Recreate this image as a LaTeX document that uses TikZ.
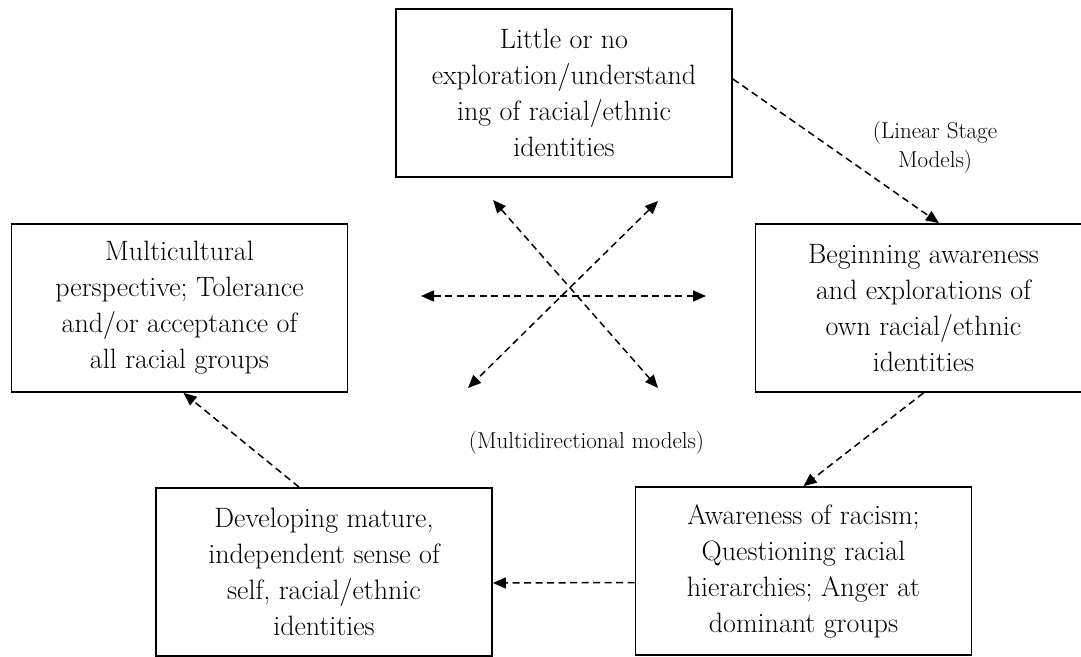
\documentclass[tikz,border=0pt]{standalone}
\usepackage{fontspec}
\usetikzlibrary{arrows.meta}
\tikzset{
  stagebox/.style={draw, line width=1.8pt, minimum width=336pt, minimum height=168pt,
    align=center, inner sep=0pt, font=\fontsize{28}{36}\selectfont},
  lbl/.style={align=center, inner sep=0pt, font=\fontsize{23}{29}\selectfont},
  dasharrow/.style={line width=1.5pt, dash pattern=on 7pt off 4.5pt,
    -{Triangle[length=13pt,width=11pt]}},
  dashboth/.style={line width=1.5pt, dash pattern=on 7pt off 4.5pt,
    {Triangle[length=13pt,width=11pt]}-{Triangle[length=13pt,width=11pt]}}
}
\begin{document}
\begin{tikzpicture}[x=1pt,y=-1pt]
\useasboundingbox (0,0) rectangle (1081,656);
\node[stagebox] (top) at (564,93) {Little or no\\exploration/understand\\ing of racial/ethnic\\identities};
\node[stagebox] (left) at (179.5,308) {Multicultural\\perspective; Tolerance\\and/or acceptance of\\all racial groups};
\node[stagebox] (right) at (923.5,308) {Beginning awareness\\and explorations of\\own racial/ethnic\\identities};
\node[stagebox] (botleft) at (324,572) {Developing mature,\\independent sense of\\self, racial/ethnic\\identities};
\node[stagebox] (botright) at (803.5,571) {Awareness of racism;\\Questioning racial\\hierarchies; Anger at\\dominant groups};
\node[lbl] (linear) at (935,147) {(Linear Stage\\Models)};
\node[lbl, anchor=base] (multi) at (586.5,448) {(Multidirectional models)};
% linear path
\draw[dasharrow] ([yshift=14pt]top.east) -- ([xshift=15.5pt]right.north);
\draw[dasharrow] (right.south) -- (botright.north);
\draw[dasharrow] ([yshift=-11.5pt]botright.west) -- ([yshift=-11pt]botleft.east);
\draw[dasharrow] ([xshift=-25pt]botleft.north) -- ([xshift=4pt]left.south);
% multidirectional arrows
\coordinate (hl) at (421,296);
\coordinate (hr) at (706,296);
\coordinate (dul) at (493,200);
\coordinate (dlr) at (658,388);
\coordinate (dur) at (658,201);
\coordinate (dll) at (468,388);
\draw[dashboth] (hl) -- (hr);
\draw[dashboth] (dul) -- (dlr);
\draw[dashboth] (dur) -- (dll);
\end{tikzpicture}
\end{document}
